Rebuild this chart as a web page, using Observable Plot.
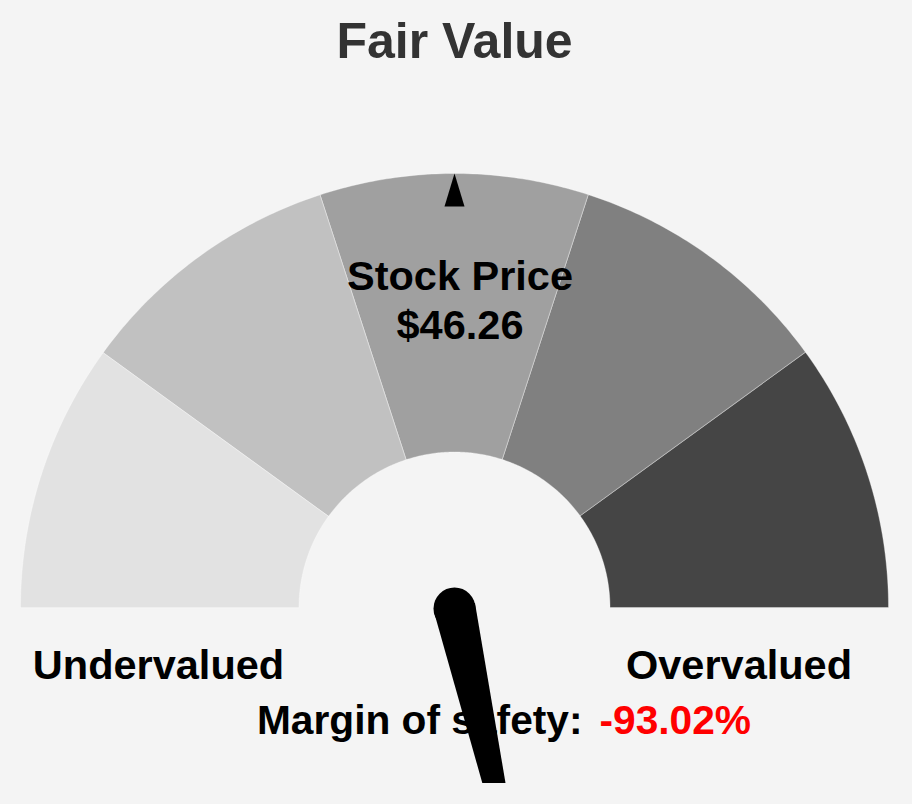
<!DOCTYPE html>
<html><head><meta charset="utf-8">
<script src="https://cdn.jsdelivr.net/npm/d3@7"></script>
<script src="https://cdn.jsdelivr.net/npm/@observablehq/plot@0.6"></script>
<style>
html,body{margin:0;padding:0;background:#f4f4f4;}
#chart svg{display:block;background:#f4f4f4;}
</style></head><body><div id="chart"></div>
<script>
// ---- data ----
const title = "Fair Value";
const zones = ["Z1", "Z2", "Z3", "Z4", "Z5"];
const zoneColors = ["#e2e2e2", "#c1c1c1", "#a0a0a0", "#808080", "#454545"];
const priceLabel = "Stock Price";
const stockPrice = 46.26;
const sideLabels = ["Undervalued", "Overvalued"];
const marginLabel = "Margin of safety:";
const marginOfSafety = -93.02;
const needleAngleDeg = -77.3;   // direction of the needle, degrees (0 = right, 90 = up)
const markerAngleDeg = 90;      // stock price marker on the dial

// ---- geometry (units of outer radius) ----
const W = 912, H = 804, CX = 454, CY = 607, R = 434, MB = 21;
const INNER = 155.5 / R;
const u = v => v / R; // pixels -> units
const rad = d => d * Math.PI / 180;

const step = 180 / zones.length;
const segPolys = zones.map((z, i) => {
  const a0 = 180 - step * i, a1 = 180 - step * (i + 1);
  const pts = [];
  const n = 60;
  for (let k = 0; k <= n; k++) { const a = rad(a0 + (a1 - a0) * k / n); pts.push({z, x: Math.cos(a), y: Math.sin(a)}); }
  for (let k = n; k >= 0; k--) { const a = rad(a0 + (a1 - a0) * k / n); pts.push({z, x: INNER * Math.cos(a), y: INNER * Math.sin(a)}); }
  return pts;
});

// marker triangle
const ma = rad(markerAngleDeg);
const mdir = [Math.cos(ma), Math.sin(ma)], mperp = [-Math.sin(ma), Math.cos(ma)];
const tri = [
  {x: mdir[0] * 1.0, y: mdir[1] * 1.0},
  {x: mdir[0] * u(401) + mperp[0] * u(10), y: mdir[1] * u(401) + mperp[1] * u(10)},
  {x: mdir[0] * u(401) - mperp[0] * u(10), y: mdir[1] * u(401) - mperp[1] * u(10)}
];

// needle
const na = rad(needleAngleDeg);
const nd = [Math.cos(na), Math.sin(na)], np = [-Math.sin(na), Math.cos(na)];
const rc = u(21), L = u(390);
const needle = [
  {x: np[0] * rc, y: np[1] * rc},
  {x: nd[0] * L, y: nd[1] * L},
  {x: -np[0] * rc, y: -np[1] * rc}
];

const font = "Liberation Sans, Arial, Helvetica, sans-serif";
const FS = 41.5, FSM = 40.7;

const plot = Plot.plot({
  width: W, height: H,
  marginLeft: 0, marginRight: 0, marginTop: 0, marginBottom: MB,
  x: {domain: [u(-CX), u(W - CX)], axis: null},
  y: {domain: [u(-(H - MB - CY)), u(CY)], axis: null},
  style: {background: "#f4f4f4", fontFamily: font},
  marks: [
    ...segPolys.map((pts, i) => Plot.line(pts, {x: "x", y: "y", curve: "linear-closed", fill: zoneColors[i], stroke: "#ffffff", strokeWidth: 0.6, strokeOpacity: 0.55})),
    Plot.line(tri, {x: "x", y: "y", curve: "linear-closed", fill: "black", stroke: "none"}),
    Plot.text([title], {x: u(0), y: u(CY - 57), text: d => d, fontSize: 50, fontWeight: "bold", fill: "#333333", lineAnchor: "bottom", fontFamily: font}),
    Plot.text([priceLabel], {x: u(5.5), y: u(CY - 289), text: d => d, fontSize: FS, fontWeight: "bold", fill: "black", lineAnchor: "bottom", fontFamily: font}),
    Plot.text([stockPrice], {x: u(5.5), y: u(CY - 338), text: d => "$" + d.toFixed(2), fontSize: FS, fontWeight: "bold", fill: "black", lineAnchor: "bottom", fontFamily: font}),
    Plot.text([sideLabels[0]], {x: u(158 - CX), y: u(CY - 678), text: d => d, fontSize: FS, fontWeight: "bold", fill: "black", lineAnchor: "bottom", fontFamily: font}),
    Plot.text([sideLabels[1]], {x: u(738.5 - CX), y: u(CY - 678), text: d => d, fontSize: FS, fontWeight: "bold", fill: "black", lineAnchor: "bottom", fontFamily: font}),
    Plot.text([marginLabel], {x: u(582 - CX), y: u(CY - 733), text: d => d, textAnchor: "end", fontSize: FSM, fontWeight: "bold", fill: "black", lineAnchor: "bottom", fontFamily: font}),
    Plot.text([marginOfSafety], {x: u(599 - CX), y: u(CY - 733), text: d => d.toFixed(2) + "%", textAnchor: "start", fontSize: FSM, fontWeight: "bold", fill: "#ff0000", lineAnchor: "bottom", fontFamily: font}),
    Plot.line(needle, {x: "x", y: "y", curve: "linear-closed", fill: "black", stroke: "none", clip: true}),
    Plot.dot([0], {x: u(0), y: u(-1), r: 21, fill: "black", stroke: "none"})
  ]
});
document.getElementById("chart").appendChild(plot);
</script></body></html>
